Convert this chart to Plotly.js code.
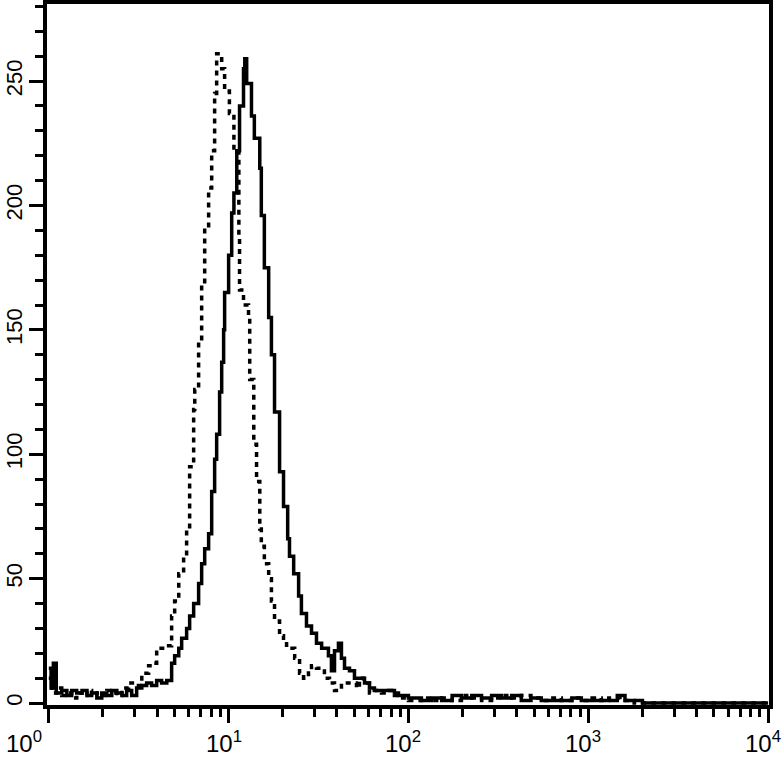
<!DOCTYPE html>
<html>
<head>
<meta charset="utf-8">
<script src="https://cdn.plot.ly/plotly-3.0.1.min.js"></script>
<style>
  html, body { margin: 0; padding: 0; background: #fff; }
  #chartDiv { width: 784px; height: 757px; }
</style>
</head>
<body>
<div id="chartDiv"></div>
<script>
// histogram values (fluorescence, counts), drawn as steps
var solidX = [1.00, 1.03, 1.06, 1.10, 1.18, 1.26, 1.34, 1.43, 1.53, 1.63, 1.73, 1.85, 1.97, 2.10, 2.24, 2.39, 2.55, 2.71, 2.89, 3.08,
    3.29, 3.50, 3.73, 3.98, 4.24, 4.53, 4.82, 5.01, 5.28, 5.48, 5.84, 6.07, 6.39, 6.81, 7.08, 7.36, 7.74, 8.05, 8.36, 8.58,
    8.91, 9.15, 9.38, 9.50, 10.0, 10.4, 10.7, 11.1, 11.5, 12.1, 12.3, 12.6, 13.4, 13.9, 14.9, 15.2, 15.8, 16.7, 17.3, 18.0,
    19.2, 20.2, 21.3, 21.8, 23.0, 24.5, 25.4, 27.1, 28.9, 30.8, 32.9, 35.9, 37.3, 38.8, 40.8, 42.4, 44.1, 47.0, 50.1, 53.4,
    57.0, 60.7, 64.7, 77.4, 83.6, 88.0, 100, 118, 135, 153, 175, 197, 225, 255, 290, 329, 375, 424, 480, 548,
    620, 708, 810, 915, 1050, 1180, 1300, 1450, 1600, 2000, 10000];
var solidY = [14, 6, 16, 4, 5, 3, 5, 4, 5, 3, 4, 2, 4, 3, 5, 4, 3, 5, 3, 6,
    7, 8, 7, 9, 8, 9, 16, 19, 22, 26, 30, 35, 40, 48, 56, 62, 68, 85, 98, 108,
    125, 137, 150, 165, 180, 197, 205, 222, 240, 255, 259, 249, 236, 227, 215, 196, 175, 155, 140, 117,
    93, 79, 66, 59, 52, 43, 36, 31, 28, 24, 22, 19, 13, 21, 24, 18, 14, 13, 10, 10,
    8, 6, 5, 5, 4, 3, 2, 1, 2, 1, 3, 2, 3, 2, 3, 2, 3, 1, 2, 1,
    1, 1, 2, 1, 1, 1, 1, 3, 1, 0, 0];

var dotX = [1.00, 1.04, 1.11, 1.18, 1.26, 1.34, 1.43, 1.53, 1.63, 1.73, 1.85, 1.97, 2.10, 2.24, 2.39, 2.55, 2.78, 3.00, 3.29, 3.59,
    3.83, 3.98, 4.53, 4.82, 5.01, 5.28, 5.62, 5.84, 6.07, 6.39, 6.48, 6.81, 7.08, 7.36, 7.74, 8.05, 8.36, 8.58, 9.15, 9.50,
    10.1, 10.7, 11.4, 11.5, 12.1, 12.9, 13.1, 13.8, 14.3, 14.9, 15.2, 15.8, 16.7, 17.3, 18.0, 19.2, 20.2, 21.0, 23.3, 24.8,
    26.1, 27.8, 28.9, 30.8, 32.0, 34.1, 36.4, 38.8, 42.4, 45.2, 48.2, 51.4, 53.4, 56.2, 60.7, 64.7, 70.8, 77.4, 83.6, 90,
    100, 118, 135, 153, 175, 197, 225, 255, 290, 329, 375, 424, 480, 548, 620, 708, 810, 915, 1050, 1180,
    1300, 1500, 1800, 10000];
var dotY = [10, 4, 6, 3, 4, 2, 4, 3, 5, 3, 4, 3, 5, 4, 3, 6, 8, 7, 12, 15,
    16, 22, 23, 35, 41, 52, 59, 70, 95, 118, 126, 145, 168, 190, 207, 222, 245, 261, 255, 246,
    237, 222, 187, 166, 160, 155, 130, 104, 89, 70, 63, 56, 50, 41, 33, 27, 26, 22, 18, 12,
    10, 13, 15, 14, 14, 10, 8, 5, 8, 8, 8, 6, 10, 8, 4, 5, 4, 5, 3, 2,
    1, 2, 1, 2, 1, 3, 2, 1, 2, 3, 2, 3, 2, 1, 2, 1, 2, 1, 2, 1,
    2, 1, 0, 0];

var xTickVals = [1, 10, 100, 1000, 10000];
var xTickText = ['10<sup>0</sup>', '10<sup>1</sup>', '10<sup>2</sup>', '10<sup>3</sup>', '10<sup>4</sup>'];

var fontName = 'Liberation Sans, Arial, Helvetica, sans-serif';

var data = [
    {
        x: dotX, y: dotY, type: 'scatter', mode: 'lines',
        line: { shape: 'hv', color: 'black', width: 3.5, dash: '5px,5px' },
        name: 'control'
    },
    {
        x: solidX, y: solidY, type: 'scatter', mode: 'lines',
        line: { shape: 'hv', color: 'black', width: 3.5 },
        name: 'stained'
    }
];

// x labels as annotations so the first one can sit left of the frame like the original
var annotations = [];
for (var i = 0; i < xTickVals.length; i++) {
    var a = {
        x: Math.log10(xTickVals[i]), xref: 'x', y: 0, yref: 'paper',
        text: xTickText[i], showarrow: false,
        yanchor: 'top', xanchor: 'center', yshift: -20, xshift: -5,
        font: { family: fontName, size: 24, color: 'black' }
    };
    if (i === 0) { a.x = 0; a.xref = 'paper'; a.xanchor = 'right'; a.xshift = -3; }
    annotations.push(a);
}

var layout = {
    width: 784, height: 757,
    margin: { l: 47, r: 15, t: 4, b: 52 },
    paper_bgcolor: 'white', plot_bgcolor: 'white',
    showlegend: false,
    font: { family: fontName, size: 22, color: 'black' },
    xaxis: {
        type: 'log', range: [-0.01, 4.005],
        showgrid: false, zeroline: false,
        showline: true, linecolor: 'black', linewidth: 4, mirror: true,
        ticks: 'outside', ticklen: 14, tickwidth: 3, tickcolor: 'black',
        tickvals: xTickVals, showticklabels: false,
        minor: { ticks: 'outside', ticklen: 8, tickwidth: 3, tickcolor: 'black', dtick: 'D1', showgrid: false }
    },
    yaxis: {
        range: [-0.8, 281],
        showgrid: false, zeroline: false,
        showline: true, linecolor: 'black', linewidth: 4, mirror: true,
        ticks: 'outside', ticklen: 14, tickwidth: 3, tickcolor: 'black',
        dtick: 50, tick0: 0, tickangle: -90, ticklabelstandoff: -2,
        tickfont: { family: fontName, size: 22, color: 'black' },
        minor: { ticks: 'outside', ticklen: 8, tickwidth: 3, tickcolor: 'black', dtick: 10, showgrid: false }
    },
    annotations: annotations
};

Plotly.newPlot('chartDiv', data, layout, { staticPlot: true });
</script>
</body>
</html>
